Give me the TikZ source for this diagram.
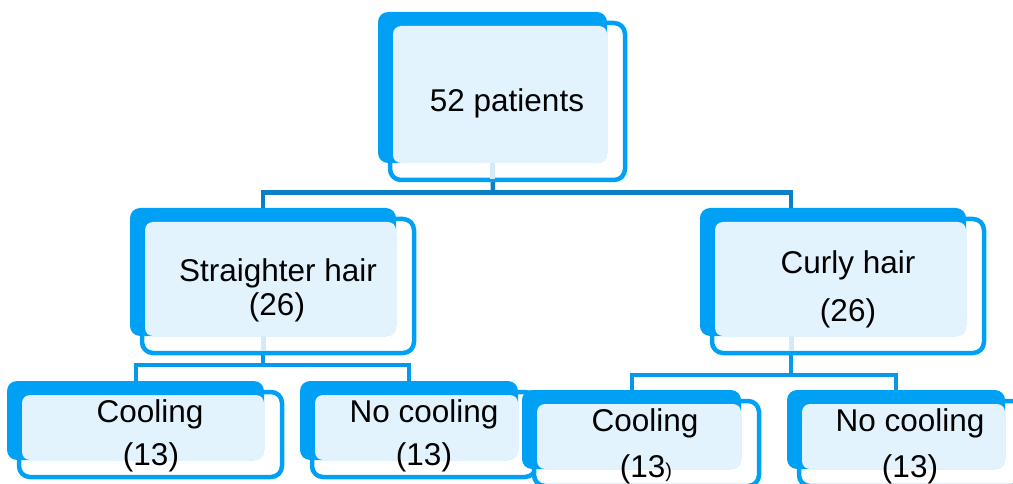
\documentclass[tikz,border=0pt]{standalone}
\usepackage{fontspec}
\setmainfont{Liberation Sans}
\usetikzlibrary{backgrounds}
\definecolor{bblue}{HTML}{00A1F5}
\definecolor{dblue}{HTML}{0B80C6}
\definecolor{mblue}{HTML}{0698EA}
\definecolor{lfill}{HTML}{E2F3FD}
\definecolor{lseg}{HTML}{D3EBF9}
\tikzset{
 backbox/.style={fill=bblue, rounded corners=10pt, inner sep=0pt, outer sep=0pt, anchor=north west},
 outl/.style={draw=bblue, line width=4.5pt, fill=white, rounded corners=11pt},
 litefill/.style={fill=lfill, rounded corners=8pt},
 conn/.style={draw=dblue, line width=4.5pt},
 conn2/.style={draw=mblue, line width=4pt},
 lite/.style={draw=lseg, line width=5pt},
 lbl/.style={font=\fontsize{31.5}{36}\selectfont, anchor=base, inner sep=0pt},
}
\newcommand\pbox[5]{%
 \draw[outl] ({#2+12},{#3+11}) rectangle ({#4+18},{#5+17});
 \node[backbox, minimum width={#4-#2}, minimum height={#5-#3}] (#1) at (#2,#3) {};
 \fill[litefill] ({#2+15},{#3+14}) rectangle (#4,#5);
}
\begin{document}
\begin{tikzpicture}[x=1pt,y=-1pt]
\useasboundingbox (0,0) rectangle (1013,484);
\clip (0,0) rectangle (1013,484);
% boxes
\pbox{top}{378}{12}{607}{163}
\pbox{straight}{130}{208}{396}{336}
\pbox{curly}{700}{208}{966}{336}
\pbox{lc}{7}{381}{264}{460}
\pbox{lnc}{300}{381}{518}{460}
\pbox{rc}{522}{390}{741}{469}
\pbox{rnc}{787}{390}{1005}{469}
% junctions
\coordinate (j1) at (493,192.5);
\coordinate (j2) at (263,365);
\coordinate (j3) at (791,375);
\coordinate (cN) at (791,208);
\coordinate (cS) at (791,336);
\begin{pgfonlayer}{background}
\draw[conn] (top.south) -- (j1);
\draw[conn] (straight.north) |- (j1) -| (cN);
\draw[conn2] (straight.south) -- (j2);
\draw[conn2] (lc.north) |- (j2) -| (lnc.north);
\draw[conn2] (cS) -- (j3);
\draw[conn2] (rc.north) |- (j3) -| (rnc.north);
\end{pgfonlayer}
% faint segments inside the boxes
\draw[lite] (top.south) -- ++(0,16);
\draw[lite] (straight.south) -- ++(0,15);
\draw[lite] (cS) -- ++(0,15);
% labels
\node[lbl] (t0) at (507,112) {52 patients};
\node[lbl] (t1) at (278,281) {Straighter hair};
\node[lbl] (t1n) at (277,315) {(26)};
\node[lbl] (t2) at (848,273) {Curly hair};
\node[lbl] (t2n) at (848,321) {(26)};
\node[lbl] (t3) at (150,422) {Cooling};
\node[lbl] (t3n) at (151,465) {(13)};
\node[lbl] (t4) at (424,422) {No cooling};
\node[lbl] (t4n) at (424,465) {(13)};
\node[lbl] (t5) at (645,431) {Cooling};
\node[lbl] (t5n) at (646,477) {(13{\fontsize{20}{20}\selectfont )}};
\node[lbl] (t6) at (910,431) {No cooling};
\node[lbl] (t6n) at (910,477) {(13)};
\end{tikzpicture}
\end{document}
